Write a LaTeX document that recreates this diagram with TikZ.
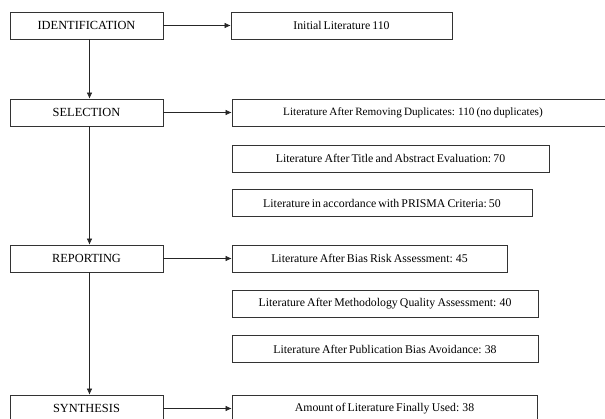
\documentclass[tikz,border=0pt]{standalone}
\usepackage{fontspec}
\setmainfont{Liberation Serif}
\usetikzlibrary{arrows.meta}

\newcommand\litfont{\fontsize{11.8}{14}\selectfont\spaceskip=0.18em plus 0.05em\relax}

\tikzset{
    stagebox/.style={draw=black!80, line width=0.7pt, minimum width=153pt, minimum height=27pt, inner sep=0pt, font=\fontsize{12.4}{14}\selectfont},
    litbox/.style={draw=black!80, line width=0.7pt, minimum height=27pt, inner sep=0pt, font=\litfont},
    flow/.style={-{Latex[length=6pt,width=5.5pt]}, line width=0.6pt, black!85}
}

\begin{document}
\begin{tikzpicture}[x=1pt, y=-1pt]
    \useasboundingbox (0,0) rectangle (605,419);

    % 左侧阶段框
    \node[stagebox] (ident) at (86.5,25.5) {IDENTIFICATION};
    \node[stagebox] (select) at (86.5,112.5) {SELECTION};
    \node[stagebox] (report) at (86.5,258.5) {REPORTING};
    \node[stagebox] (synth) at (86.5,408.5) {SYNTHESIS};

    % 右侧文献数量框
    \node[litbox, minimum width=221pt] (init) at (341.5,25.5) {Initial Literature 110};
    \node[litbox, minimum width=378pt] (dup) at (421,112.5) {\hspace*{-16pt}\fontsize{11.2}{14}\selectfont Literature After Removing Duplicates: 110 (no duplicates)};
    \node[litbox, minimum width=317pt] (title) at (390.5,158.5) {Literature After Title and Abstract Evaluation:\ 70};
    \node[litbox, minimum width=300pt] (prisma) at (382,203) {Literature in accordance with PRISMA Criteria:\ 50};
    \node[litbox, minimum width=275pt] (bias) at (369.5,258.5) {Literature After Bias Risk Assessment: 45};
    \node[litbox, minimum width=306pt] (method) at (385,303.5) {Literature After Methodology Quality Assessment: 40};
    \node[litbox, minimum width=306pt] (pub) at (385,349) {Literature After Publication Bias Avoidance: 38};
    \node[litbox, minimum width=305pt] (amount) at (384.5,408.5) {Amount of Literature Finally Used: 38};

    % 阶段之间的箭头
    \draw[flow] ([xshift=3pt]ident.south) -- ([xshift=3pt]select.north);
    \draw[flow] ([xshift=3pt]select.south) -- ([xshift=3pt]report.north);
    \draw[flow] ([xshift=3pt]report.south) -- ([xshift=3pt]synth.north);

    % 指向右侧的箭头
    \draw[flow] (ident.east) -- (init.west);
    \draw[flow] (select.east) -- (dup.west);
    \draw[flow] (report.east) -- (bias.west);
    \draw[flow] (synth.east) -- (amount.west);

\end{tikzpicture}
\end{document}
